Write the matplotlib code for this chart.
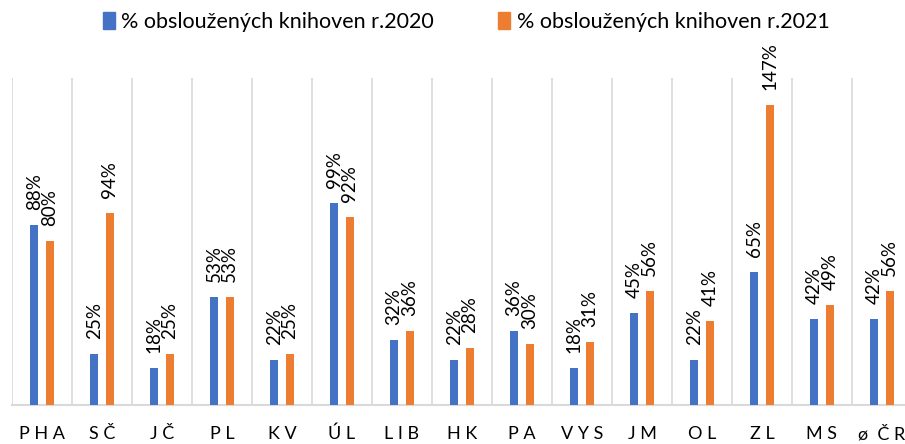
import numpy as np
import matplotlib
matplotlib.use('Agg')
from matplotlib import pyplot as plt
from matplotlib.patches import Patch

plt.rcParams['font.family'] = ['Lato', 'DejaVu Sans']

# data
regions = ['P H A', 'S Č', 'J Č', 'P L', 'K V', 'Ú L', 'L I B', 'H K',
           'P A', 'V Y S', 'J M', 'O L', 'Z L', 'M S', 'ø  Č R']
pct_2020 = [88, 25, 18, 53, 22, 99, 32, 22, 36, 18, 45, 22, 65, 42, 42]
pct_2021 = [80, 94, 25, 53, 25, 92, 36, 28, 30, 31, 56, 41, 147, 49, 56]
series_names = ['% obsloužených knihoven r.2020', '% obsloužených knihoven r.2021']

blue = '#4472C4'
orange = '#ED7D31'
grid_col = '#D9D9D9'

W, H = 905, 444
fig = plt.figure(figsize=(W / 100, H / 100), dpi=100)
ax = fig.add_axes([12 / W, (H - 405) / H, 900 / W, (405 - 78) / H])

x = np.arange(len(regions))
bw = 0.14
b1 = ax.bar(x - 0.13, pct_2020, bw, color=blue, zorder=3)
b2 = ax.bar(x + 0.13, pct_2021, bw, color=orange, zorder=3)

# value labels above bars, rotated
for bars, vals in [(b1, pct_2020), (b2, pct_2021)]:
    for rect, v in zip(bars, vals):
        ax.annotate('%d%%' % v, (rect.get_x() + rect.get_width() / 2, v),
                    xytext=(0, 15), textcoords='offset pixels',
                    rotation=90, ha='center', va='bottom',
                    fontsize=13.5, color='#000000')

# separators between categories
for b in np.arange(-0.5, len(regions) + 0.5, 1):
    ax.axvline(b, color=grid_col, lw=1.2, zorder=1)

ax.set_xlim(-0.5, len(regions) - 0.5)
ax.set_ylim(0, 160)
ax.set_yticks([])
ax.set_xticks(x)
ax.set_xticklabels(regions, fontsize=13)
ax.tick_params(axis='x', length=0, pad=15)
for s in ['top', 'left', 'right']:
    ax.spines[s].set_visible(False)
ax.spines['bottom'].set_color(grid_col)
ax.spines['bottom'].set_linewidth(1.5)

handles = [Patch(color=blue), Patch(color=orange)]
fig.legend(handles, series_names, loc='center', bbox_to_anchor=(466 / W, 1 - 22 / H),
           ncol=2, frameon=False, fontsize=15.5, handlelength=0.55, handleheight=0.85,
           handletextpad=0.3, columnspacing=3.0)

fig.savefig('out.png', dpi=100)
